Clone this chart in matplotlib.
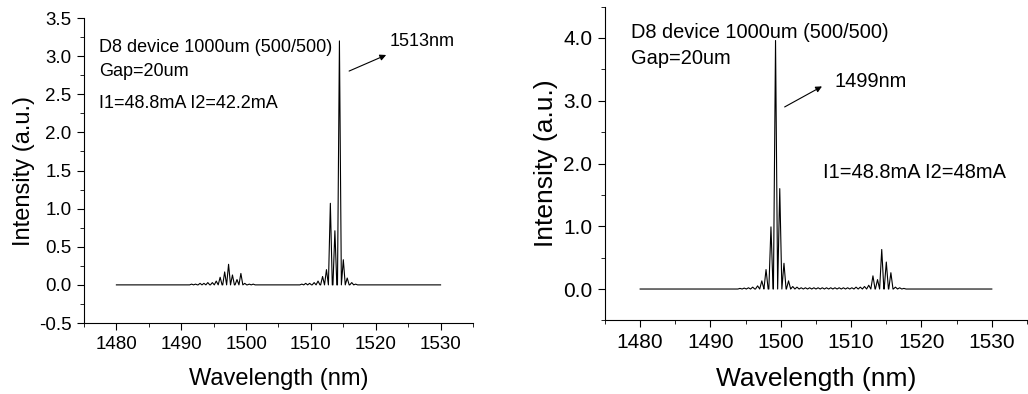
import numpy as np
import matplotlib.pyplot as plt
from matplotlib.ticker import MultipleLocator

plt.rcParams['font.family'] = ['Liberation Sans', 'DejaVu Sans']

# left panel: lasing modes (nm) and peak intensity (a.u.)
left_wl = [1491.6, 1492.2, 1492.9, 1493.5, 1494.1, 1494.8, 1495.4, 1496.0,
           1496.7, 1497.3, 1497.9, 1498.6, 1499.2, 1499.8, 1500.5, 1501.1,
           1508.6, 1509.2, 1509.8, 1510.5, 1511.1, 1511.8, 1512.4, 1513.0,
           1513.7, 1514.4, 1515.0, 1515.6, 1516.3, 1516.9]
left_h = [0.01, 0.01, 0.02, 0.02, 0.03, 0.03, 0.05, 0.10,
          0.17, 0.27, 0.13, 0.07, 0.15, 0.02, 0.01, 0.01,
          0.01, 0.02, 0.02, 0.03, 0.05, 0.11, 0.20, 1.07,
          0.71, 3.20, 0.33, 0.09, 0.03, 0.01]

# right panel
right_wl = [1494.2, 1494.8, 1495.4, 1496.0, 1496.7, 1497.3, 1497.9, 1498.6,
            1499.25, 1499.85, 1500.45, 1501.1, 1501.7, 1502.3, 1502.9, 1503.5,
            1504.1, 1504.7, 1505.3, 1505.9, 1506.5, 1507.1, 1507.7, 1508.3,
            1508.9, 1509.5, 1510.1, 1510.7, 1511.3, 1511.9, 1512.5, 1513.1,
            1513.75, 1514.35, 1515.0, 1515.65, 1516.3, 1516.9, 1517.5]
right_h = [0.01, 0.015, 0.02, 0.03, 0.05, 0.13, 0.31, 0.99,
           3.96, 1.60, 0.41, 0.13, 0.04, 0.03, 0.02, 0.02,
           0.02, 0.02, 0.02, 0.02, 0.02, 0.02, 0.02, 0.02,
           0.02, 0.02, 0.02, 0.03, 0.03, 0.04, 0.06, 0.21,
           0.15, 0.63, 0.43, 0.26, 0.03, 0.02, 0.01]

x_start, x_end = 1480, 1530


def spectrum(wl, h, half=0.3):
    # sharp modes on a zero baseline
    xs, ys = [x_start], [0]
    for w, v in zip(wl, h):
        xs += [w - half, w, w + half]
        ys += [0, v, 0]
    xs.append(x_end)
    ys.append(0)
    return xs, ys


fig = plt.figure(figsize=(10.28, 3.94), dpi=100)
ax1 = fig.add_axes([0.0817, 0.1802, 0.3784, 0.774])
ax2 = fig.add_axes([0.5885, 0.1868, 0.4105, 0.7964])

arrow = dict(arrowstyle='-|>', color='black', lw=0.8, mutation_scale=9)

# (axes, x data, y data, tick size, label size, ylabel pad)
for ax, wl, h, ts, ls, ypad in [(ax1, left_wl, left_h, 13.5, 17, 3),
                                (ax2, right_wl, right_h, 15, 19, 4)]:
    xs, ys = spectrum(wl, h)
    ax.plot(xs, ys, color='black', lw=0.8)
    ax.set_xlim(1475, 1535)
    ax.spines['top'].set_visible(False)
    ax.spines['right'].set_visible(False)
    ax.xaxis.set_major_locator(MultipleLocator(10))
    ax.xaxis.set_minor_locator(MultipleLocator(5))
    ax.tick_params(which='major', direction='out', length=5, labelsize=ts,
                   pad=4)
    ax.tick_params(which='minor', direction='out', length=3)
    ax.set_xlabel('Wavelength (nm)', fontsize=ls, labelpad=11)
    ax.set_ylabel('Intensity (a.u.)', fontsize=ls, labelpad=ypad)

t1 = 13
ax1.set_ylim(-0.5, 3.5)
ax1.yaxis.set_minor_locator(MultipleLocator(0.25))
ax1.set_yticks([-0.5, 0, 0.5, 1, 1.5, 2, 2.5, 3, 3.5])
ax1.set_yticklabels(['-0.5', '0.0', '0.5', '1.0', '1.5', '2.0', '2.5', '3.0', '3.5'])
ax1.text(1477.3, 3.12, 'D8 device 1000um (500/500)', fontsize=t1, va='center')
ax1.text(1477.3, 2.80, 'Gap=20um', fontsize=t1, va='center')
ax1.text(1477.3, 2.38, 'I1=48.8mA I2=42.2mA', fontsize=t1, va='center')
ax1.annotate('', xy=(1522.0, 3.03), xytext=(1515.5, 2.79), arrowprops=arrow)
ax1.text(1522.2, 3.19, '1513nm', fontsize=t1, va='center')

t2 = 14.4
ax2.set_ylim(-0.5, 4.5)
ax2.yaxis.set_minor_locator(MultipleLocator(0.5))
ax2.set_yticks([0, 1, 2, 3, 4])
ax2.set_yticklabels(['0.0', '1.0', '2.0', '3.0', '4.0'])
ax2.text(1478.7, 4.08, 'D8 device 1000um (500/500)', fontsize=t2, va='center')
ax2.text(1478.7, 3.68, 'Gap=20um', fontsize=t2, va='center')
ax2.annotate('', xy=(1506.2, 3.25), xytext=(1500.2, 2.88), arrowprops=arrow)
ax2.text(1507.6, 3.30, '1499nm', fontsize=t2, va='center')
ax2.text(1506.0, 1.86, 'I1=48.8mA I2=48mA', fontsize=t2, va='center')

fig.savefig('out.png', dpi=100)
